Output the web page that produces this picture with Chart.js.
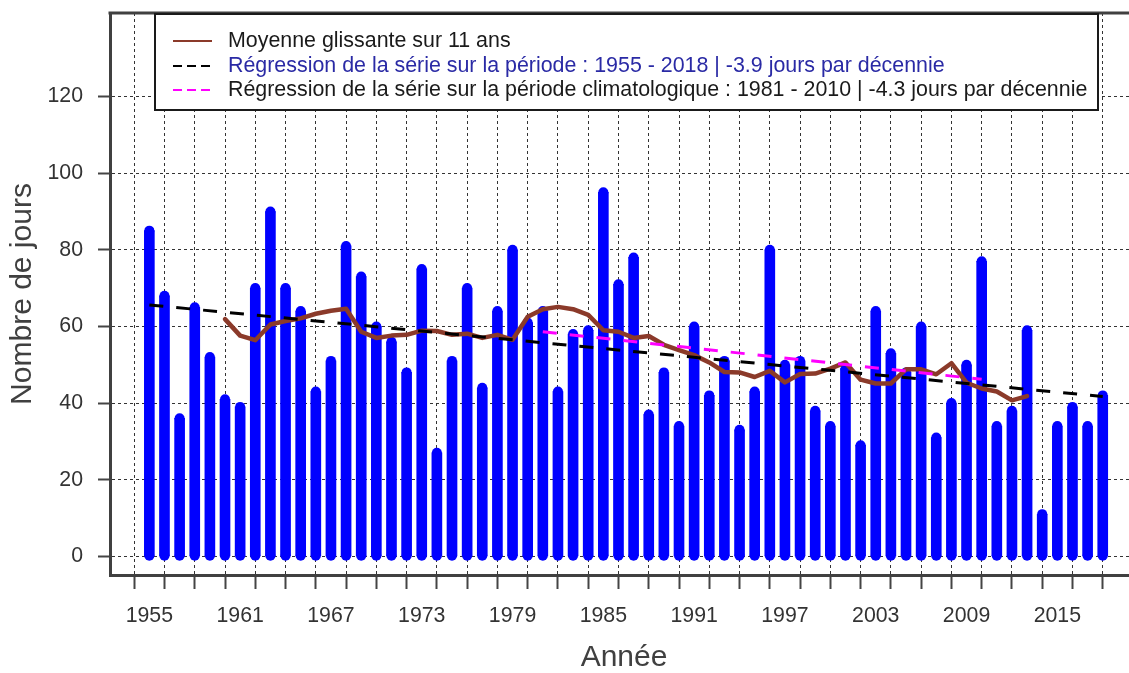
<!DOCTYPE html>
<html><head><meta charset="utf-8">
<script src="https://cdn.jsdelivr.net/npm/chart.js@4/dist/chart.umd.min.js"></script>
<style>html,body{margin:0;padding:0;background:#fff;overflow:hidden}#wrap{width:1129px;height:673px;position:relative;overflow:hidden}canvas{display:block}</style>
</head><body><div id="wrap"><canvas id="c" width="1138" height="673"></canvas></div>
<script>
// ---- DATA ----
const years = [1955,1956,1957,1958,1959,1960,1961,1962,1963,1964,1965,1966,1967,1968,1969,1970,1971,1972,1973,1974,1975,1976,1977,1978,1979,1980,1981,1982,1983,1984,1985,1986,1987,1988,1989,1990,1991,1992,1993,1994,1995,1996,1997,1998,1999,2000,2001,2002,2003,2004,2005,2006,2007,2008,2009,2010,2011,2012,2013,2014,2015,2016,2017,2018];
const days = [85,68,36,65,52,41,39,70,90,70,64,43,51,81,73,60,56,48,75,27,51,70,44,64,80,61,64,43,58,59,95,71,78,37,48,34,60,42,51,33,43,80,50,51,38,34,49,29,64,53,48,60,31,40,50,77,34,38,59,11,34,39,34,42];
const movingAvg = [null,null,null,null,null,61.9,57.6,56.4,60.5,61.4,62.1,63.3,64.1,64.6,58.6,57.0,57.6,57.8,58.9,58.8,57.8,58.1,57.0,57.8,56.5,62.5,64.5,65.1,64.5,63.0,59.0,58.6,57.0,57.5,55.2,53.8,52.5,50.6,48.1,48.0,46.8,48.4,45.4,47.6,47.7,49.0,50.6,46.1,45.1,45.1,48.8,48.8,47.5,50.4,45.3,43.8,43.0,40.7,41.8,null,null,null,null,null];
const regAllYears = [1955, 2018];
const regAllValues = [65.6, 41.7];
const regClimYears = [1981, 2010];
const regClimValues = [58.6, 46.2];
const yTicks = [0,20,40,60,80,100,120];
const xTicks = [1955,1957,1959,1961,1963,1965,1967,1969,1971,1973,1975,1977,1979,1981,1983,1985,1987,1989,1991,1993,1995,1997,1999,2001,2003,2005,2007,2009,2011,2013,2015,2017,2019];
const xTickLabels = ['1955','1961','1967','1973','1979','1985','1991','1997','2003','2009','2015'];
const legendLabels = [
  'Moyenne glissante sur 11 ans',
  'Régression de la série sur la période : 1955 - 2018 | -3.9 jours par décennie',
  'Régression de la série sur la période climatologique : 1981 - 2010 | -4.3 jours par décennie'
];
const legendTextColors = ['#1a1a1a','#2a2aa5','#1a1a1a'];

// ---- STYLE ----
const FONT = "'Liberation Sans', Arial, sans-serif";
const BROWN = '#8B3A2A';
const AXIS = '#404040';

const capsPlugin = {
  id: 'caps',
  afterDatasetDraw(chart, args) {
    const ds = chart.data.datasets[args.index];
    if (ds.type !== 'bar') return;
    const ctx = chart.ctx;
    ctx.save();
    ctx.fillStyle = ds.backgroundColor;
    args.meta.data.forEach(el => {
      const r = el.width / 2;
      ctx.beginPath(); ctx.arc(el.x, el.y, r, 0, Math.PI * 2); ctx.fill();
      ctx.beginPath(); ctx.arc(el.x, el.base, r, 0, Math.PI * 2); ctx.fill();
    });
    ctx.restore();
  }
};

const framePlugin = {
  id: 'frame',
  afterDraw(chart) {
    const ctx = chart.ctx, a = chart.chartArea;
    ctx.save();
    ctx.strokeStyle = AXIS; ctx.lineWidth = 3;
    ctx.beginPath(); ctx.moveTo(a.left - 1.5, a.top); ctx.lineTo(chart.width, a.top); ctx.stroke();
    ctx.restore();
  }
};

const legendPlugin = {
  id: 'customLegend',
  afterDraw(chart) {
    const ctx = chart.ctx;
    const box = {x: 155, y: 14, w: 943, h: 96};
    ctx.save();
    ctx.fillStyle = '#fff';
    ctx.fillRect(box.x, box.y, box.w, box.h);
    ctx.strokeStyle = '#1a1a1a'; ctx.lineWidth = 2;
    ctx.strokeRect(box.x, box.y, box.w, box.h);
    const rows = [41, 66, 90];
    const lineDs = chart.data.datasets.filter(d => d.type === 'line');
    lineDs.forEach((ds, i) => {
      const y = rows[i];
      ctx.strokeStyle = ds.borderColor;
      ctx.lineWidth = 2;
      ctx.setLineDash(ds.borderDash ? [9, 5] : []);
      ctx.beginPath(); ctx.moveTo(173, y); ctx.lineTo(212, y); ctx.stroke();
      ctx.setLineDash([]);
      ctx.fillStyle = legendTextColors[i];
      ctx.font = '21.4px ' + FONT;
      ctx.textBaseline = 'middle';
      ctx.textAlign = 'left';
      ctx.fillText(ds.label, 228, y);
    });
    ctx.restore();
  }
};

new Chart(document.getElementById('c'), {
  type: 'bar',
  data: {
    labels: years,
    datasets: [
      {type: 'line', label: legendLabels[0], data: movingAvg, borderColor: BROWN, borderWidth: 4.5,
       pointRadius: 0, fill: false, tension: 0, order: 3, borderJoinStyle: 'round', borderCapStyle: 'round'},
      {type: 'line', label: legendLabels[1], data: regAllYears.map((x, i) => ({x: x, y: regAllValues[i]})),
       borderColor: '#000000', borderWidth: 3, borderDash: [14, 13], pointRadius: 0, fill: false, order: 2},
      {type: 'line', label: legendLabels[2], data: regClimYears.map((x, i) => ({x: x, y: regClimValues[i]})),
       borderColor: '#ff00ff', borderWidth: 3, borderDash: [14, 13], pointRadius: 0, fill: false, order: 1},
      {type: 'bar', label: 'Nombre de jours', data: days, backgroundColor: '#0000ff', barThickness: 10, order: 5}
    ]
  },
  options: {
    responsive: false, animation: false,
    layout: {padding: {top: 13, right: 0, bottom: 0, left: 0}},
    plugins: {legend: {display: false}, tooltip: {enabled: false}},
    scales: {
      x: {
        type: 'linear', min: 1952.4, max: 2020.33, offset: false,
        afterBuildTicks: s => { s.ticks = xTicks.map(v => ({value: v})); },
        afterFit: s => { s.height = 98; s.paddingLeft = 0; s.paddingRight = 0; },
        ticks: {autoSkip: false, maxRotation: 0, minRotation: 0, padding: 14, color: '#333',
          font: {family: FONT, size: 21.3},
          callback: v => xTickLabels.includes(String(v)) ? String(v) : ''},
        grid: {color: '#333', lineWidth: 1, tickLength: 14, tickColor: '#444', tickWidth: 2, tickBorderDash: []},
        border: {display: true, color: AXIS, width: 3, dash: [3, 3]},
        title: {display: true, text: 'Année', color: AXIS, font: {family: FONT, size: 30, lineHeight: 1}, padding: {top: 0, bottom: 0}}
      },
      y: {
        type: 'linear', min: -4.88, max: 141.8,
        afterBuildTicks: s => { s.ticks = yTicks.map(v => ({value: v})); },
        afterFit: s => { s.width = 110; s.paddingTop = 0; s.paddingBottom = 0; },
        ticks: {padding: 15, color: '#333', font: {family: FONT, size: 21.3}},
        grid: {color: '#333', lineWidth: 1, tickLength: 12, tickColor: '#444', tickWidth: 2, tickBorderDash: []},
        border: {display: true, color: AXIS, width: 3, dash: [3, 3]},
        title: {display: true, text: 'Nombre de jours', color: AXIS, font: {family: FONT, size: 30}, padding: {top: 5, bottom: 0}}
      }
    }
  },
  plugins: [capsPlugin, framePlugin, legendPlugin]
});
</script></body></html>
